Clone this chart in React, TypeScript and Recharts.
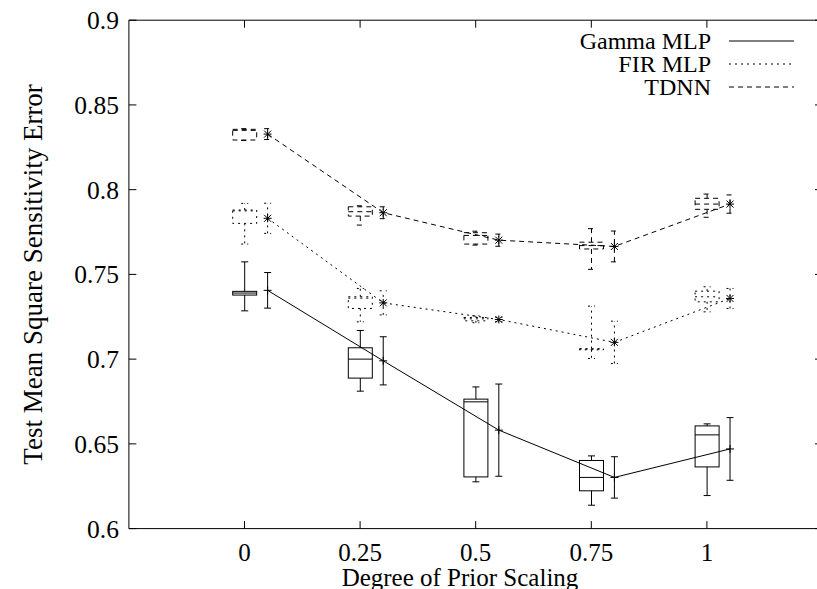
import { ComposedChart, XAxis, YAxis, Bar, Scatter, ErrorBar, Legend } from 'recharts'

// x positions of the boxes and of the mean/std error bars
const scaling = [0, 0.25, 0.5, 0.75, 1]
const meanAt = [0.05, 0.3, 0.55, 0.8, 1.05]
const xTicks = [0, 0.25, 0.5, 0.75, 1]
const yTicks = [0.6, 0.65, 0.7, 0.75, 0.8, 0.85, 0.9]

// Gamma MLP
const gammaLow = [0.7285, 0.6811, 0.6276, 0.6138, 0.6195]
const gammaQ1 = [0.7378, 0.6888, 0.6305, 0.6223, 0.6364]
const gammaMedian = [0.739, 0.7, 0.6748, 0.6302, 0.6553]
const gammaQ3 = [0.74, 0.7067, 0.6764, 0.6402, 0.6606]
const gammaHigh = [0.7574, 0.7169, 0.6836, 0.6429, 0.6618]
const gammaMean = [0.7406, 0.699, 0.6581, 0.6302, 0.647]
const gammaSd = [0.0105, 0.0142, 0.0272, 0.0122, 0.0185]

// FIR MLP
const firLow = [0.7679, 0.722, 0.7215, 0.7004, 0.7279]
const firQ1 = [0.7801, 0.7299, 0.7226, 0.7055, 0.7338]
const firMedian = [0.7875, 0.736, 0.7238, 0.7059, 0.7368]
const firQ3 = [0.788, 0.7368, 0.7246, 0.7062, 0.7401]
const firHigh = [0.7919, 0.7417, 0.7256, 0.7313, 0.7427]
const firMean = [0.7831, 0.7332, 0.7234, 0.7099, 0.7358]
const firSd = [0.0089, 0.0071, 0.0012, 0.0125, 0.0059]

// TDNN
const tdnnLow = [0.829, 0.7791, 0.7673, 0.753, 0.7837]
const tdnnQ1 = [0.8293, 0.7844, 0.7679, 0.765, 0.7884]
const tdnnMedian = [0.835, 0.787, 0.773, 0.767, 0.7915]
const tdnnQ3 = [0.8356, 0.7899, 0.7746, 0.769, 0.7949]
const tdnnHigh = [0.836, 0.7905, 0.7755, 0.777, 0.7974]
const tdnnMean = [0.8328, 0.7864, 0.7702, 0.7665, 0.7915]
const tdnnSd = [0.0032, 0.0035, 0.0036, 0.0091, 0.0054]

const FONT = '"Liberation Serif", "Times New Roman", serif'
const FS = 24

type Series = {
  key: string
  name: string
  low: number[]
  q1: number[]
  median: number[]
  q3: number[]
  high: number[]
  mean: number[]
  sd: number[]
  dash?: string
  star: boolean
}

const series: Series[] = [
  { key: 'gamma', name: 'Gamma MLP', low: gammaLow, q1: gammaQ1, median: gammaMedian, q3: gammaQ3, high: gammaHigh, mean: gammaMean, sd: gammaSd, dash: undefined, star: false },
  { key: 'fir', name: 'FIR MLP', low: firLow, q1: firQ1, median: firMedian, q3: firQ3, high: firHigh, mean: firMean, sd: firSd, dash: '2 4', star: true },
  { key: 'tdnn', name: 'TDNN', low: tdnnLow, q1: tdnnQ1, median: tdnnMedian, q3: tdnnQ3, high: tdnnHigh, mean: tdnnMean, sd: tdnnSd, dash: '5 4', star: true },
]

// one row per box position, each series as a [low, high] whisker range
const boxRows = scaling.map((x, i) => {
  const row: any = { i, x }
  series.forEach((s) => {
    row[s.key] = [s.low[i], s.high[i]]
  })
  return row
})

const meanRows = (s: Series) => meanAt.map((x, i) => ({ x, y: s.mean[i], sd: s.sd[i] }))

const boxShape = (s: Series) => (props: any) => {
  const { x, y, width, height, payload } = props
  const i = payload.i
  const lo = s.low[i]
  const hi = s.high[i]
  // linear map inside the whisker range given by the bar
  const py = (v: number) => y + (height * (hi - v)) / (hi - lo)
  const cx = x + width / 2
  const st = { stroke: '#000', strokeWidth: 1, strokeDasharray: s.dash, fill: 'none' }
  const top = py(s.q3[i])
  const bot = py(s.q1[i])
  const med = py(s.median[i])
  return (
    <g>
      <rect x={x} y={top} width={width} height={bot - top} {...st} />
      <line x1={x} x2={x + width} y1={med} y2={med} {...st} />
      <line x1={cx} x2={cx} y1={top} y2={y} {...st} />
      <line x1={cx - 3.5} x2={cx + 3.5} y1={y} y2={y} {...st} />
      <line x1={cx} x2={cx} y1={bot} y2={y + height} {...st} />
      <line x1={cx - 3.5} x2={cx + 3.5} y1={y + height} y2={y + height} {...st} />
    </g>
  )
}

const marker = (star: boolean) => (props: any) => {
  const { cx, cy } = props
  return (
    <g stroke="#000" strokeWidth={1}>
      <line x1={cx - 4} x2={cx + 4} y1={cy} y2={cy} />
      <line x1={cx} x2={cx} y1={cy - 4} y2={cy + 4} />
      {star && <line x1={cx - 3.5} x2={cx + 3.5} y1={cy - 3.5} y2={cy + 3.5} />}
      {star && <line x1={cx - 3.5} x2={cx + 3.5} y1={cy + 3.5} y2={cy - 3.5} />}
    </g>
  )
}

const TICK = 7.5

const BottomTick = ({ x, y, payload }: any) => (
  <g>
    <line x1={x} x2={x} y1={y} y2={y - TICK} stroke="#000" />
    <text x={x} y={y + 24} dy="0.35em" textAnchor="middle" fontFamily={FONT} fontSize={25} fill="#000">
      {payload.value}
    </text>
  </g>
)

const TopTick = ({ x, y }: any) => <line x1={x} x2={x} y1={y} y2={y + TICK} stroke="#000" />

const LeftTick = ({ x, y, payload }: any) => (
  <g>
    <line x1={x} x2={x + TICK} y1={y} y2={y} stroke="#000" />
    <text x={x - 10} y={y} dy="0.35em" textAnchor="end" fontFamily={FONT} fontSize={25.5} fill="#000">
      {payload.value}
    </text>
  </g>
)

const RightTick = ({ x, y }: any) => <line x1={x} x2={x - TICK} y1={y} y2={y} stroke="#000" />

const LegendBox = () => (
  <svg width={830} height={110}>
    {series.map((s, i) => {
      const y = 41 + i * 23
      return (
        <g key={s.key}>
          <text x={711} y={y} dy="0.35em" textAnchor="end" fontFamily={FONT} fontSize={FS} fill="#000">
            {s.name}
          </text>
          <line x1={729} x2={794} y1={y} y2={y} stroke="#000" strokeWidth={1} strokeDasharray={s.dash} />
        </g>
      )
    })}
  </svg>
)

export default function App() {
  return (
    <div style={{ position: 'absolute', left: 0, top: 0, width: 830, height: 589, background: '#fff' }}>
      <ComposedChart width={830} height={589} data={boxRows} margin={{ top: 0, right: 0, left: 0, bottom: 30.4 }}>
        <XAxis
          xAxisId="main"
          dataKey="x"
          type="number"
          domain={[-0.25, 1.25]}
          ticks={xTicks}
          allowDataOverflow
          height={30}
          tickSize={0}
          tickMargin={0}
          tickLine={false}
          tick={<BottomTick />}
          axisLine={{ stroke: '#000' }}
          label={() => (
            <text x={460} y={577} dy="0.35em" textAnchor="middle" fontFamily={FONT} fontSize={25} fill="#000">
              Degree of Prior Scaling
            </text>
          )}
        />
        <XAxis
          xAxisId="top"
          orientation="top"
          dataKey="x"
          type="number"
          domain={[-0.25, 1.25]}
          ticks={xTicks}
          allowDataOverflow
          height={20.2}
          tickSize={0}
          tickMargin={0}
          tickLine={false}
          tick={<TopTick />}
          axisLine={{ stroke: '#000' }}
        />
        {series.map((s) => (
          <XAxis
            key={s.key}
            xAxisId={s.key}
            dataKey="x"
            type="number"
            domain={[-0.25, 1.25]}
            allowDataOverflow
            height={0}
            hide
          />
        ))}
        <YAxis
          type="number"
          domain={[0.6, 0.9]}
          ticks={yTicks}
          allowDataOverflow
          width={128.9}
          tickSize={0}
          tickMargin={0}
          tickLine={false}
          tick={<LeftTick />}
          axisLine={{ stroke: '#000' }}
          label={(p: any) => {
            const vb = p.viewBox || {}
            const cy = (vb.y || 0) + (vb.height || 0) / 2
            return (
              <text x={33} y={cy} dy="0.35em" textAnchor="middle" transform={`rotate(-90 33 ${cy})`} fontFamily={FONT} fontSize={27} fill="#000">
                Test Mean Square Sensitivity Error
              </text>
            )
          }}
        />
        <YAxis
          yAxisId="r"
          orientation="right"
          type="number"
          domain={[0.6, 0.9]}
          ticks={yTicks}
          allowDataOverflow
          width={7.5}
          tickSize={0}
          tickMargin={0}
          tickLine={false}
          tick={<RightTick />}
          axisLine={{ stroke: '#000' }}
        />
        {series.map((s) => (
          <Bar
            key={`box-${s.key}`}
            xAxisId={s.key}
            dataKey={s.key}
            barSize={24}
            shape={boxShape(s)}
            isAnimationActive={false}
            legendType="none"
          />
        ))}
        {series.map((s) => (
          <Scatter
            key={`mean-${s.key}`}
            name={s.name}
            xAxisId="main"
            data={meanRows(s)}
            dataKey="y"
            fill="none"
            line={{ stroke: '#000', strokeWidth: 1, strokeDasharray: s.dash }}
            lineType="joint"
            shape={marker(s.star)}
            isAnimationActive={false}
          >
            <ErrorBar dataKey="sd" direction="y" width={3.5} stroke="#000" strokeWidth={1} strokeDasharray={s.dash} />
          </Scatter>
        ))}
        <Legend
          layout="vertical"
          align="center"
          verticalAlign="middle"
          wrapperStyle={{ position: 'absolute', left: 0, top: 0, width: 830, height: 110, margin: 0 }}
          content={() => <LegendBox />}
        />
      </ComposedChart>
    </div>
  )
}
